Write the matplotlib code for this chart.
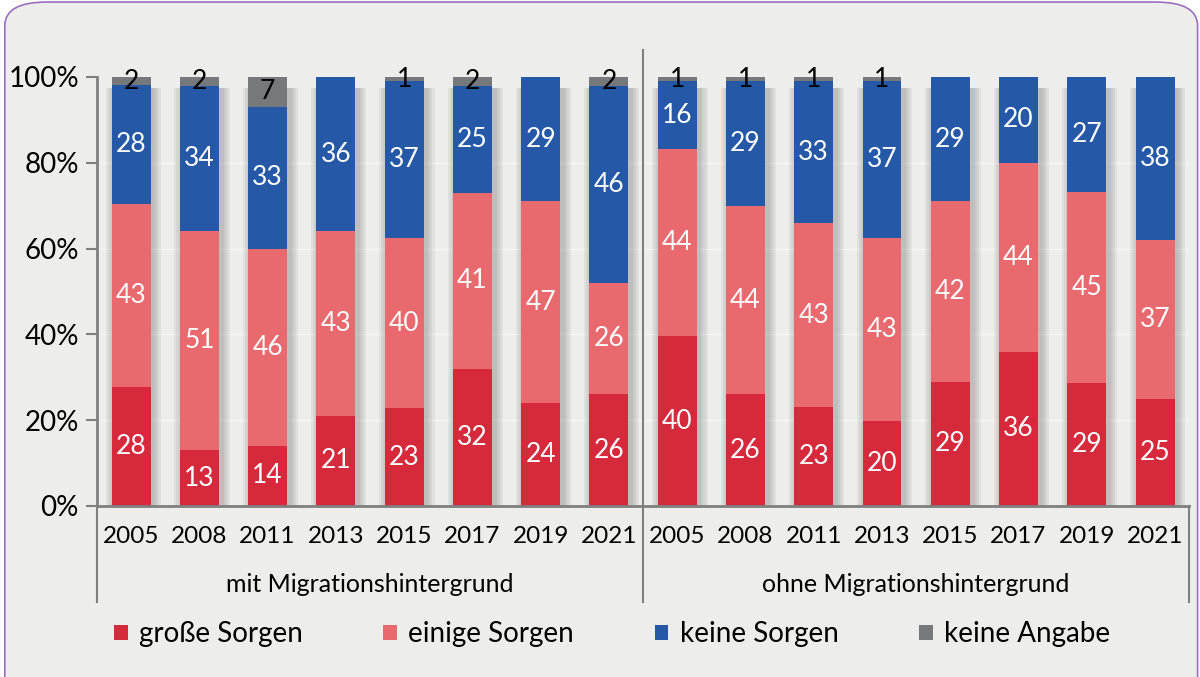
import matplotlib.pyplot as plt
from matplotlib.patches import FancyBboxPatch
from matplotlib.transforms import blended_transform_factory
import numpy as np

plt.rcParams['font.family'] = ['Lato', 'DejaVu Sans']

years = ['2005', '2008', '2011', '2013', '2015', '2017', '2019', '2021']
groups = ['mit Migrationshintergrund', 'ohne Migrationshintergrund']

grosse = [28, 13, 14, 21, 23, 32, 24, 26, 40, 26, 23, 20, 29, 36, 29, 25]
einige = [43, 51, 46, 43, 40, 41, 47, 26, 44, 44, 43, 43, 42, 44, 45, 37]
keine = [28, 34, 33, 36, 37, 25, 29, 46, 16, 29, 33, 37, 29, 20, 27, 38]
angabe = [2, 2, 7, 0, 1, 2, 0, 2, 1, 1, 1, 1, 0, 0, 0, 0]

series = [grosse, einige, keine, angabe]
names = ['große Sorgen', 'einige Sorgen', 'keine Sorgen', 'keine Angabe']
colors = ['#d62a3c', '#e8696e', '#2559a7', '#76797c']
txt_colors = ['white', 'white', 'white', 'black']

bg = '#ededeb'
fig = plt.figure(figsize=(12, 6.77), dpi=100)
fig.patch.set_facecolor('white')
frame = FancyBboxPatch((0.004, -0.05), 0.994, 1.047,
                       boxstyle='round,pad=0,rounding_size=0.035',
                       transform=fig.transFigure, facecolor=bg,
                       edgecolor='#9b6fc0', linewidth=1.2, zorder=-10)
fig.patches.append(frame)

ax = fig.add_axes([0.0808, 0.2526, 0.9102, 0.6337])
ax.set_facecolor('none')

data = np.array(series, dtype=float)
totals = data.sum(axis=0)
pct = data / totals * 100
x = np.arange(len(grosse))
width = 0.57

# soft shadow behind each full bar
top = pct.sum(axis=0)
for k in range(4):
    grow = 0.03 * (k + 1)
    ax.bar(x + 0.04, top + 0.6 * (k + 1) - 1.5, width + 2 * grow,
           bottom=-0.6 * (k + 1) - 1.0, color='black', alpha=0.05, zorder=2,
           linewidth=0)

bottom = np.zeros(len(grosse))
for i in range(4):
    ax.bar(x, pct[i], width, bottom=bottom, color=colors[i], zorder=3,
           label=names[i], linewidth=0)
    for j in range(len(x)):
        if data[i, j] > 0:
            ax.text(x[j], bottom[j] + pct[i, j] / 2, f'{int(data[i, j])}',
                    ha='center', va='center', color=txt_colors[i],
                    fontsize=19, zorder=5)
    bottom += pct[i]

ax.set_xlim(-0.5, 15.5)
ax.set_ylim(0, 100)
ax.set_yticks([0, 20, 40, 60, 80, 100])
ax.set_yticklabels(['0%', '20%', '40%', '60%', '80%', '100%'], fontsize=20)
ax.tick_params(axis='y', direction='out', length=8, width=1.5, color='#7f7f7f', pad=5)
ax.set_xticks([])
for s in ['top', 'right']:
    ax.spines[s].set_visible(False)
for s in ['left', 'bottom']:
    ax.spines[s].set_color('#7f7f7f')
    ax.spines[s].set_linewidth(2)
ax.spines['bottom'].set_bounds(-0.5, 15.5)
ax.spines['bottom'].set_zorder(4)
ax.spines['left'].set_zorder(4)

for k in [20, 40, 60, 80]:
    ax.axhline(k, color='white', lw=1, alpha=0.5, zorder=1)

tr = blended_transform_factory(ax.transData, ax.transAxes)
for j in range(len(x)):
    ax.text(x[j], -0.072, years[j % 8], transform=tr, ha='center', va='center',
            fontsize=17.5)
for g in range(2):
    ax.text(3.5 + 8 * g, -0.184, groups[g], transform=tr, ha='center',
            va='center', fontsize=18)
line_kw = dict(transform=tr, clip_on=False, color='#7f7f7f', lw=1.5)
ax.plot([-0.5, -0.5], [0, -0.224], **line_kw)
ax.plot([15.5, 15.5], [0, -0.224], **line_kw)
ax.plot([7.5, 7.5], [1.063, -0.224], **line_kw)

handles, labels = ax.get_legend_handles_labels()
leg = fig.legend(handles, labels, loc='center', bbox_to_anchor=(0.51, 0.063),
                 ncol=4, frameon=False, fontsize=20, handlelength=0.5,
                 handleheight=0.5, handletextpad=0.4, columnspacing=2.9)

fig.savefig('out.png', dpi=100, facecolor=fig.get_facecolor())
